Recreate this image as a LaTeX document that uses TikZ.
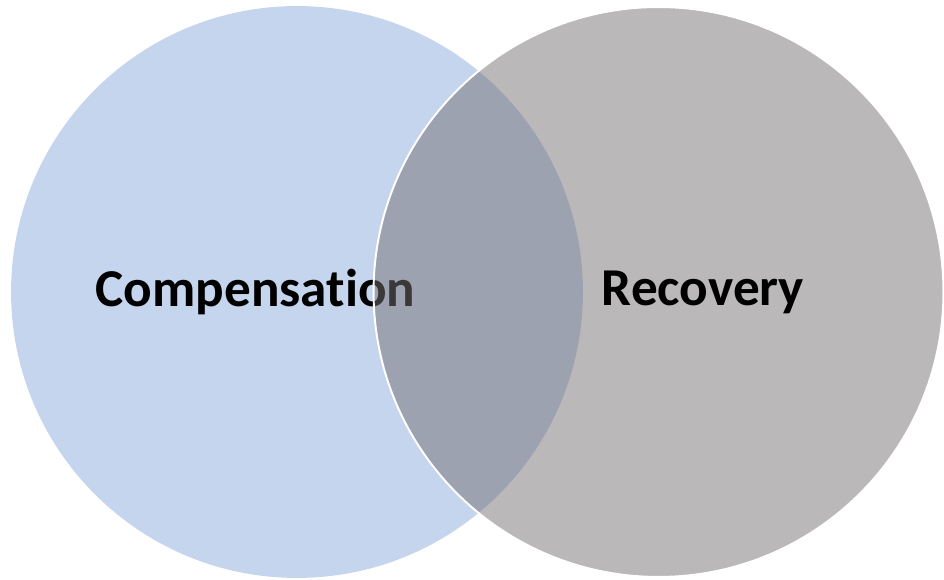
\documentclass[tikz,border=0pt]{standalone}
\usepackage{fontspec}
\setmainfont[Ligatures=NoCommon]{Carlito}
\usetikzlibrary{positioning}
\definecolor{compblue}{RGB}{198,213,238}
\definecolor{recgrey}{RGB}{117,113,115}

\begin{document}
\begin{tikzpicture}[
        x = 0.02cm,
        y = 0.02cm,
        setcircle/.style = {circle, inner sep = 0pt, minimum size = 11.44cm},
        compensation/.style = {setcircle, fill = compblue},
        recovery/.style = {setcircle, minimum size = 11.40cm, fill = recgrey, fill opacity = 0.5, draw = white, line width = 1.1pt},
        setlabel/.style = {font = \bfseries\fontsize{30.3}{36}\selectfont, text = black}
      ]
      \useasboundingbox (0,0) rectangle (944,580);
      \node[compensation] (comp) at (297,288) {};
      \node[setlabel] (complabel) at (255.5,288) {Compensation};
      \node[recovery] (rec) at (658.5,288) {};
      \node[setlabel] (reclabel) at (703,288) {Recovery};
    \end{tikzpicture}
\end{document}
